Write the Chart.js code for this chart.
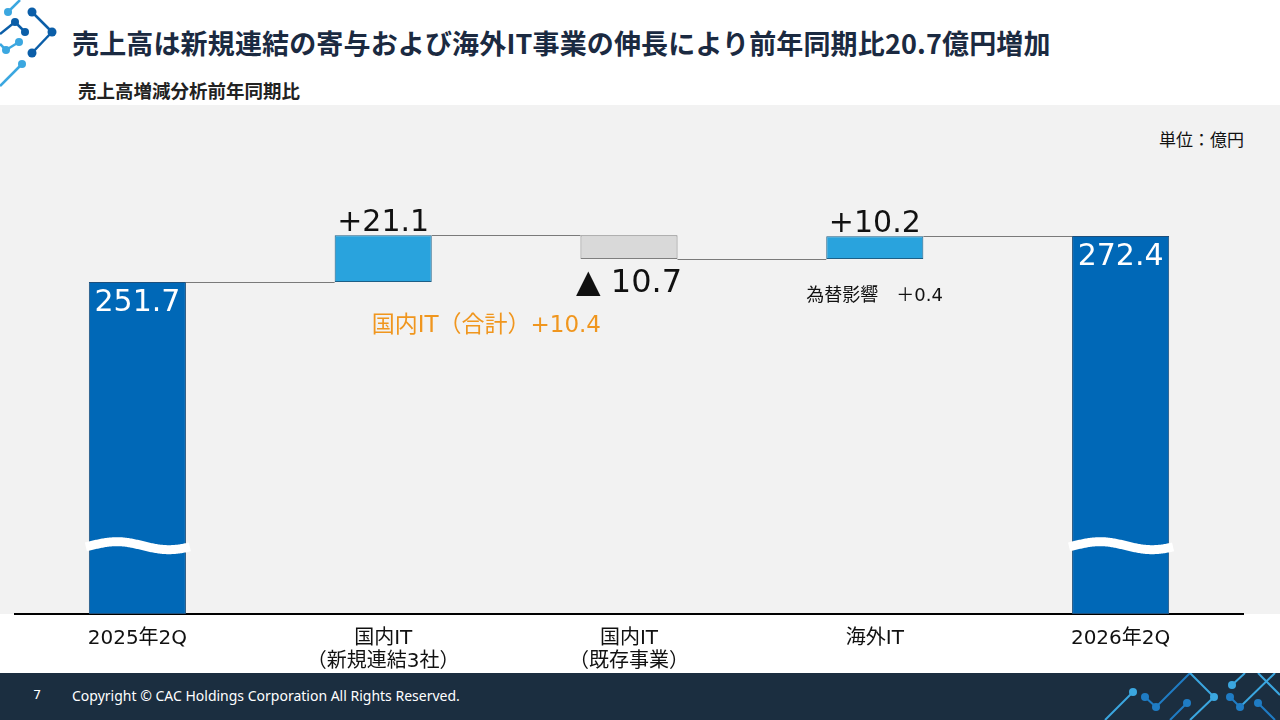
<!DOCTYPE html>
<html lang="ja">
<head>
<meta charset="utf-8">
<script src="https://cdn.jsdelivr.net/npm/chart.js@4.4.0/dist/chart.umd.min.js"></script>
<style>
  html, body { margin: 0; padding: 0; }
  body { width: 1280px; height: 720px; position: relative; overflow: hidden; background: #fff;
         font-family: "Noto Sans CJK JP", "Noto Sans", sans-serif; }
  #title { position: absolute; left: 72px; top: 23px; font-size: 27px; font-weight: bold; color: #1b2a41; white-space: nowrap; letter-spacing: 0.15px; }
  #subtitle { position: absolute; left: 78px; top: 77px; font-size: 18.5px; font-weight: bold; color: #222; white-space: nowrap; }
  #panel { position: absolute; left: 0; top: 105px; width: 1280px; height: 509px; background: #f2f2f2; }
  #unit { position: absolute; right: 36px; top: 126px; font-size: 17px; color: #111; }
  #wrap { position: absolute; left: 0; top: 105px; width: 1280px; height: 568px; }
  #footer { position: absolute; left: 0; top: 673px; width: 1280px; height: 47px; background: #1b2e40; color: #fff; }
  #footer .pg { position: absolute; left: 33px; top: 14px; font-size: 13px; font-family: "DejaVu Sans", sans-serif; }
  #footer .cp { position: absolute; left: 72px; top: 13px; font-size: 14px; font-family: "Noto Sans", sans-serif; white-space: nowrap; }
  svg { position: absolute; }
</style>
</head>
<body>
<svg style="left:0;top:0" width="70" height="95" viewBox="0 0 70 95">
  <g stroke-width="2.5" fill="none">
    <line x1="8" y1="12" x2="20" y2="0" stroke="#3ba7e0"/>
    <line x1="32" y1="12" x2="52" y2="32" stroke="#0b5ea8"/>
    <line x1="52" y1="32" x2="32" y2="53" stroke="#0b5ea8"/>
    <line x1="0" y1="34" x2="15" y2="22" stroke="#0b5ea8"/>
    <line x1="15" y1="22" x2="25" y2="32" stroke="#0b5ea8"/>
    <line x1="0" y1="44" x2="6" y2="50" stroke="#3ba7e0"/>
    <line x1="6" y1="50" x2="19" y2="42" stroke="#3ba7e0"/>
    <line x1="0" y1="86" x2="22" y2="64" stroke="#3ba7e0"/>
  </g>
  <g>
    <circle cx="8" cy="12" r="4" fill="#3ba7e0"/>
    <circle cx="32" cy="12" r="4.5" fill="#0b5ea8"/>
    <circle cx="52" cy="32" r="4.5" fill="#0b5ea8"/>
    <circle cx="32" cy="53" r="4.5" fill="#0b5ea8"/>
    <circle cx="15" cy="22" r="4" fill="#0b5ea8"/>
    <circle cx="25" cy="32" r="4" fill="#0b5ea8"/>
    <circle cx="6" cy="50" r="4" fill="#3ba7e0"/>
    <circle cx="19" cy="42" r="4" fill="#3ba7e0"/>
    <circle cx="22" cy="64" r="4" fill="#3ba7e0"/>
  </g>
</svg>
<div id="title">売上高は新規連結の寄与および海外IT事業の伸長により前年同期比20.7億円増加</div>
<div id="subtitle">売上高増減分析前年同期比</div>
<div id="panel"></div>
<div id="unit">単位：億円</div>
<div id="wrap"><canvas id="chart"></canvas></div>
<div id="footer">
  <span class="pg">7</span>
  <span class="cp">Copyright © CAC Holdings Corporation All Rights Reserved.</span>
  <svg style="left:1100px;top:0" width="180" height="47" viewBox="0 0 180 47">
    <g stroke-width="2" fill="none">
      <line x1="5" y1="47" x2="33" y2="19" stroke="#3ba7e0"/>
      <line x1="45" y1="24" x2="56" y2="34" stroke="#1f7cc4"/>
      <line x1="56" y1="34" x2="90" y2="0" stroke="#1f7cc4"/>
      <line x1="70" y1="47" x2="87" y2="30" stroke="#1f7cc4"/>
      <line x1="90" y1="0" x2="114" y2="24" stroke="#3ba7e0"/>
      <line x1="114" y1="24" x2="90" y2="47" stroke="#3ba7e0"/>
      <line x1="130" y1="24" x2="140" y2="34" stroke="#1f7cc4"/>
      <line x1="140" y1="34" x2="175" y2="0" stroke="#3ba7e0"/>
      <line x1="132" y1="12" x2="145" y2="0" stroke="#3ba7e0"/>
      <line x1="158" y1="0" x2="180" y2="22" stroke="#3ba7e0"/>
      <line x1="158" y1="30" x2="175" y2="47" stroke="#1f7cc4"/>
    </g>
    <g>
      <circle cx="33" cy="19" r="4" fill="#3ba7e0"/>
      <circle cx="45" cy="24" r="4" fill="#1f7cc4"/>
      <circle cx="56" cy="34" r="4" fill="#1f7cc4"/>
      <circle cx="87" cy="30" r="4" fill="#1f7cc4"/>
      <circle cx="114" cy="24" r="4" fill="#3ba7e0"/>
      <circle cx="130" cy="24" r="4" fill="#1f7cc4"/>
      <circle cx="140" cy="34" r="4" fill="#1f7cc4"/>
      <circle cx="132" cy="12" r="4" fill="#3ba7e0"/>
      <circle cx="158" cy="30" r="4" fill="#1f7cc4"/>
    </g>
  </svg>
</div>

<script>
// 売上高の増減データ（億円）
const categories = [['2025年2Q'], ['国内IT', '（新規連結3社）'], ['国内IT', '（既存事業）'], ['海外IT'], ['2026年2Q']];
const barKinds = ['total', 'up', 'down', 'up', 'total'];
const values = [251.7, 21.1, -10.7, 10.2, 272.4];
const valueLabels = ['251.7', '+21.1', '▲ 10.7', '+10.2', '272.4'];
const noteDomestic = '国内IT（合計）+10.4';
const noteFx = '為替影響　＋0.4';

// 軸の範囲（途中省略の波線つき）
const axisMin = 102.3;
const axisMax = 331.4;
const breakValue = 133.5;

const colors = { total: '#0068b7', up: '#29a3dd', down: '#d9d9d9' };
const borders = { total: '#1d4f7c', up: '#1d5f86', down: '#7f7f7f' };

// ウォーターフォールの区間を計算
function buildRanges() {
    const ranges = [];
    let level = 0;
    values.forEach((v, i) => {
        if (barKinds[i] === 'total') {
            ranges.push([axisMin, v]);
            level = v;
        } else {
            ranges.push([level, level + v]);
            level = level + v;
        }
    });
    return ranges;
}
const ranges = buildRanges();

const numFont = '"DejaVu Sans", "Noto Sans CJK JP", sans-serif';

// 接続線・波線・ラベルを描くプラグイン
const waterfallPlugin = {
    id: 'waterfall',
    afterDatasetsDraw(chart) {
        const ctx = chart.ctx;
        const meta = chart.getDatasetMeta(0);
        const y = chart.scales.y;

        // 接続線
        ctx.save();
        ctx.strokeStyle = '#7a7a7a';
        ctx.lineWidth = 1;
        for (let i = 0; i < meta.data.length - 1; i++) {
            const a = meta.data[i], b = meta.data[i + 1];
            const lvl = ranges[i][1];
            const py = Math.round(y.getPixelForValue(lvl)) + 0.5;
            ctx.beginPath();
            ctx.moveTo(a.x + a.width / 2, py);
            ctx.lineTo(b.x - b.width / 2, py);
            ctx.stroke();
        }
        ctx.restore();

        // 波線（省略記号）
        ctx.save();
        ctx.strokeStyle = '#ffffff';
        ctx.lineWidth = 9;
        meta.data.forEach((bar, i) => {
            if (barKinds[i] !== 'total') return;
            const cy = y.getPixelForValue(breakValue);
            const x0 = bar.x - bar.width / 2 - 3, x1 = bar.x + bar.width / 2 + 4;
            ctx.beginPath();
            for (let x = x0; x <= x1; x += 1) {
                const t = (x - x0) / (x1 - x0);
                const py = cy - 4 * Math.sin(t * Math.PI * 2 - 0.3) + 1;
                if (x === x0) ctx.moveTo(x, py); else ctx.lineTo(x, py);
            }
            ctx.stroke();
        });
        ctx.restore();

        // 数値ラベル
        ctx.save();
        ctx.textAlign = 'center';
        meta.data.forEach((bar, i) => {
            const top = y.getPixelForValue(Math.max(ranges[i][0], ranges[i][1]));
            const bottom = y.getPixelForValue(Math.min(ranges[i][0], ranges[i][1]));
            if (barKinds[i] === 'total') {
                ctx.font = '30px ' + numFont;
                ctx.fillStyle = '#ffffff';
                ctx.textBaseline = 'alphabetic';
                ctx.fillText(valueLabels[i], bar.x, top + 29);
            } else if (barKinds[i] === 'up') {
                ctx.font = '30px ' + numFont;
                ctx.fillStyle = '#111111';
                ctx.textBaseline = 'alphabetic';
                ctx.fillText(valueLabels[i], bar.x, top - 4);
            } else {
                ctx.font = '32px ' + numFont;
                ctx.fillStyle = '#111111';
                ctx.textBaseline = 'alphabetic';
                ctx.fillText(valueLabels[i], bar.x, bottom + 33);
            }
        });

        // 注記
        const b1 = meta.data[1], b3 = meta.data[3];
        ctx.textAlign = 'left';
        ctx.font = '23px ' + numFont;
        ctx.fillStyle = '#f0961e';
        ctx.fillText(noteDomestic, b1.x - b1.width / 2 + 37, y.getPixelForValue(ranges[1][0]) + 50);
        ctx.font = '18px ' + numFont;
        ctx.fillStyle = '#111111';
        ctx.fillText(noteFx, b3.x - b3.width / 2 - 20, y.getPixelForValue(ranges[3][0]) + 42);
        ctx.restore();
    }
};

function createChart() {
    const ctx = document.getElementById('chart').getContext('2d');
    new Chart(ctx, {
        type: 'bar',
        data: {
            labels: categories,
            datasets: [{
                data: ranges,
                backgroundColor: barKinds.map(k => colors[k]),
                borderColor: barKinds.map(k => borders[k]),
                borderWidth: 1,
                borderSkipped: false,
                barPercentage: 0.395,
                categoryPercentage: 1
            }]
        },
        options: {
            responsive: true,
            maintainAspectRatio: false,
            animation: false,
            layout: { padding: { left: 14.5, right: 36.5, top: 0, bottom: 0 } },
            plugins: { legend: { display: false }, tooltip: { enabled: false } },
            scales: {
                x: {
                    grid: { display: false },
                    border: { display: true, color: '#000000', width: 2 },
                    ticks: {
                        color: '#111111',
                        padding: 5,
                        font: { size: 20, family: numFont, lineHeight: 1.15 }
                    },
                    afterFit(scale) { scale.height = 59; }
                },
                y: {
                    display: false,
                    min: axisMin,
                    max: axisMax
                }
            }
        },
        plugins: [waterfallPlugin]
    });
}

document.addEventListener('DOMContentLoaded', createChart);
</script>
</body>
</html>
